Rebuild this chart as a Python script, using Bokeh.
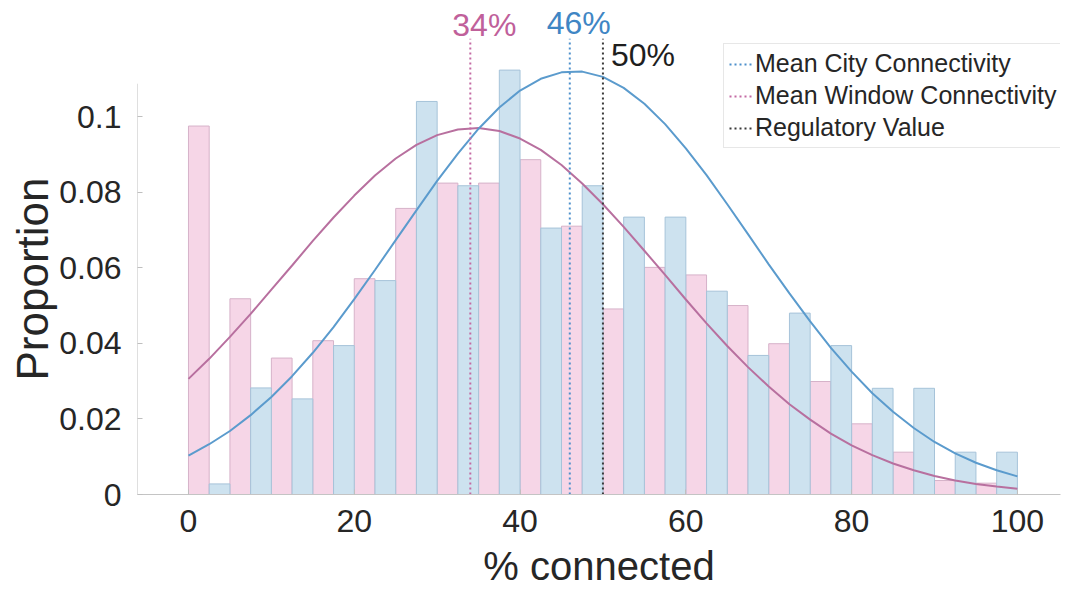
from bokeh.plotting import figure
from bokeh.models import Range1d, FixedTicker, Legend, LegendItem, Title
from bokeh.embed import file_html
from bokeh.resources import INLINE
from bokeh.core.properties import value

# ---------------- data ----------------
pink_left = [0, 5, 10, 15, 20, 25, 30, 35, 40, 45, 50, 55, 60, 65, 70, 75, 80, 85, 90, 95]
blue_left = [2.5, 7.5, 12.5, 17.5, 22.5, 27.5, 32.5, 37.5, 42.5, 47.5, 52.5, 57.5, 62.5, 67.5, 72.5, 77.5, 82.5, 87.5, 92.5, 97.5]
bin_w = 2.5
window_prop = [0.0975, 0.0518, 0.0361, 0.0407, 0.0571, 0.0757, 0.0824, 0.0824, 0.0886, 0.0710,
               0.0491, 0.0601, 0.0581, 0.0500, 0.0399, 0.0299, 0.0187, 0.0112, 0.0037, 0.0030]
city_prop = [0.0028, 0.0282, 0.0253, 0.0394, 0.0566, 0.1040, 0.0817, 0.1123, 0.0705, 0.0817,
             0.0734, 0.0734, 0.0538, 0.0368, 0.0480, 0.0394, 0.0281, 0.0281, 0.0112, 0.0112]

curve_x = [0, 2.5, 5, 7.5, 10, 12.5, 15, 17.5, 20, 22.5, 25, 27.5, 30, 32.5, 35, 37.5, 40, 42.5, 45, 47.5,
           50, 52.5, 55, 57.5, 60, 62.5, 65, 67.5, 70, 72.5, 75, 77.5, 80, 82.5, 85, 87.5, 90, 92.5, 95, 97.5, 100]
window_fit = [0.0306, 0.0359, 0.0417, 0.0478, 0.0542, 0.0606, 0.0671, 0.0733, 0.0791, 0.0844,
              0.0889, 0.0925, 0.0951, 0.0966, 0.0970, 0.0962, 0.0942, 0.0912, 0.0872, 0.0823,
              0.0768, 0.0708, 0.0645, 0.0581, 0.0516, 0.0453, 0.0393, 0.0337, 0.0286, 0.0239,
              0.0198, 0.0161, 0.0130, 0.0104, 0.0082, 0.0064, 0.0049, 0.0037, 0.0028, 0.0021, 0.0015]
city_fit = [0.0103, 0.0133, 0.0168, 0.0210, 0.0258, 0.0313, 0.0375, 0.0443, 0.0517, 0.0594,
            0.0673, 0.0752, 0.0830, 0.0902, 0.0968, 0.1024, 0.1069, 0.1100, 0.1117, 0.1119,
            0.1105, 0.1076, 0.1034, 0.0980, 0.0916, 0.0845, 0.0768, 0.0689, 0.0609, 0.0532,
            0.0458, 0.0388, 0.0325, 0.0268, 0.0219, 0.0176, 0.0139, 0.0109, 0.0084, 0.0064, 0.0048]

line_names = ["Mean City Connectivity", "Mean Window Connectivity", "Regulatory Value"]
line_vals = [46, 34, 50]
line_labels = ["46%", "34%", "50%"]

x_ticks = [0, 20, 40, 60, 80, 100]
y_ticks = [0, 0.02, 0.04, 0.06, 0.08, 0.1]
y_tick_labels = ["0", "0.02", "0.04", "0.06", "0.08", "0.1"]

# ---------------- styles ----------------
FONT = "Liberation Sans"
TXT = "#262626"
PINK_FILL, PINK_EDGE, PINK_LINE = "#f6d6e7", "#d6b2c9", "#b8709f"
BLUE_FILL, BLUE_EDGE, BLUE_LINE = "#cde2ef", "#a6c3d9", "#5b9bcd"
line_colors = ["#4d90cc", "#c46aa3", "#3a3a3a"]
label_colors = ["#3f86c4", "#c0609a", "#1e1e1e"]

X0, X1 = -6.15, 105.2
p = figure(width=1084, height=591, output_backend="svg", toolbar_location=None,
           x_range=Range1d(X0, X1), y_range=Range1d(0, 0.1286),
           min_border_left=137, min_border_right=24, min_border_top=8, min_border_bottom=97)
p.outline_line_color = None
p.grid.visible = False
p.background_fill_color = "white"

# bars
p.quad(left=pink_left, right=[v + bin_w for v in pink_left], bottom=0, top=window_prop,
       fill_color=PINK_FILL, line_color=PINK_EDGE, line_width=1)
p.quad(left=blue_left, right=[v + bin_w for v in blue_left], bottom=0, top=city_prop,
       fill_color=BLUE_FILL, line_color=BLUE_EDGE, line_width=1)

# fitted curves
p.line(curve_x, window_fit, line_color=PINK_LINE, line_width=2)
p.line(curve_x, city_fit, line_color=BLUE_LINE, line_width=2)

# vertical reference lines
line_top = 0.1206
items = []
for name, v, c in zip(line_names, line_vals, line_colors):
    r = p.line([v, v], [0, line_top], line_color=c, line_width=2, line_dash="2 3")
    items.append(LegendItem(label=name, renderers=[r]))

# labels for reference lines
p.text(x=[line_vals[1]], y=[0.1242], text=[line_labels[1]], text_align="center", text_baseline="middle",
       x_offset=14, text_color=label_colors[1], text_font=value(FONT), text_font_size="32px")
p.text(x=[line_vals[0]], y=[0.1248], text=[line_labels[0]], text_align="center", text_baseline="middle",
       x_offset=9, text_color=label_colors[0], text_font=value(FONT), text_font_size="32px")
p.text(x=[line_vals[2]], y=[0.1162], text=[line_labels[2]], text_align="left", text_baseline="middle",
       x_offset=8, text_color=label_colors[2], text_font=value(FONT), text_font_size="32px")

# left spine (only up to the MATLAB axes top)
p.segment(x0=[X0], y0=[0], x1=[X0], y1=[0.1087], line_color="#bfbfbf", line_width=1)

legend = Legend(items=items, location=(586, 346), label_text_font=FONT, label_text_font_size="25px",
                label_text_color=TXT, glyph_width=24, glyph_height=22, label_height=26,
                label_standoff=2, spacing=3, padding=5, margin=0,
                border_line_color="#cfcfcf", border_line_width=1, background_fill_color="white",
                background_fill_alpha=1)
p.add_layout(legend)

# y axis title, placed along the drawn axes
ytitle = Title(text="Proportion", align="left", offset=114, text_font=FONT,
               text_font_size="44px", text_font_style="normal", text_color=TXT, standoff=0)
p.add_layout(ytitle, "left")

# axes
p.xaxis.ticker = FixedTicker(ticks=x_ticks)
p.yaxis.ticker = FixedTicker(ticks=y_ticks)
p.yaxis.major_label_overrides = {t: l for t, l in zip(y_ticks, y_tick_labels)}
for ax in (p.xaxis, p.yaxis):
    ax.major_label_text_font = FONT
    ax.major_label_text_font_size = "32px"
    ax.major_label_text_color = TXT
    ax.axis_label_text_font = FONT
    ax.axis_label_text_font_style = "normal"
    ax.axis_label_text_color = TXT
    ax.major_tick_in = 5
    ax.major_tick_out = 0
    ax.minor_tick_line_color = None
    ax.major_tick_line_color = "#bfbfbf"
p.xaxis.axis_line_color = "#c4c4c4"
p.yaxis.axis_line_color = None
p.xaxis.axis_label = "% connected"
p.xaxis.axis_label_text_font_size = "40px"
p.xaxis.major_label_standoff = 15
p.yaxis.major_label_standoff = 16
p.xaxis.axis_label_standoff = 9

open("out.html", "w").write(file_html(p, INLINE))
